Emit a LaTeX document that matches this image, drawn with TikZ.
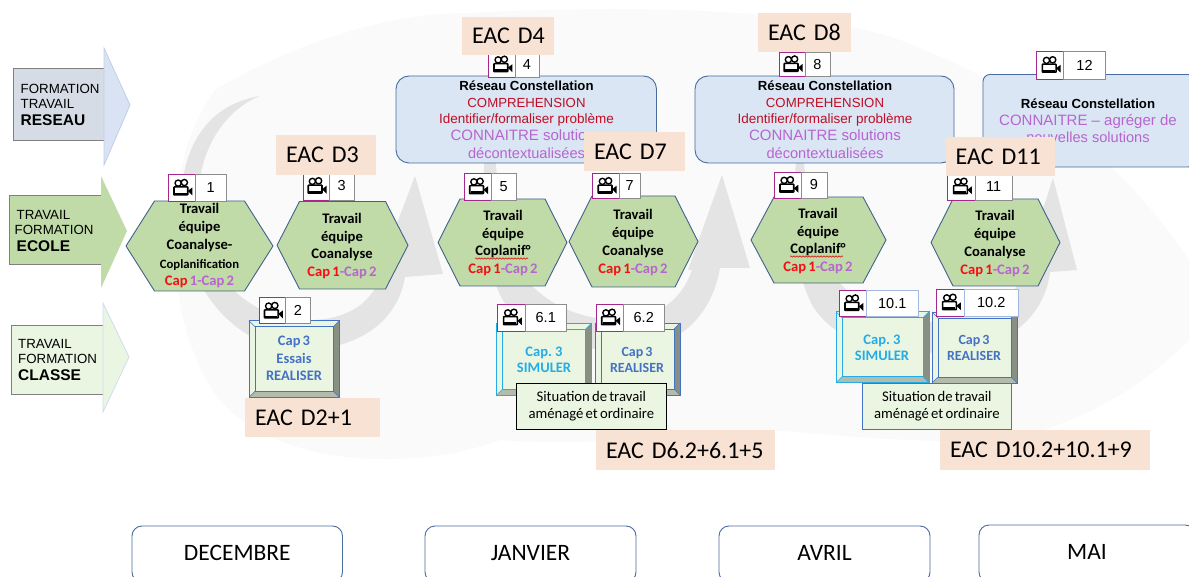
\documentclass[tikz,border=0pt]{standalone}
\usepackage{fontspec}
\setmainfont{Liberation Sans}
\newfontfamily\carl[WordSpace=0.65]{Carlito}
\usetikzlibrary{decorations.pathmorphing}
\definecolor{pinkb}{HTML}{A5288F}
\definecolor{hexfill}{HTML}{C0DBA8}
\definecolor{hexline}{HTML}{41618C}
\definecolor{redc}{HTML}{F50F14}
\definecolor{purc}{HTML}{B765CF}
\definecolor{darkred}{HTML}{C00D25}
\definecolor{bluefill}{HTML}{DAE6F4}
\definecolor{bluel}{HTML}{4A6C9E}
\definecolor{eacf}{HTML}{F8E2D3}
\definecolor{paleg}{HTML}{EAF6E2}
\definecolor{capb}{HTML}{4472C4}
\definecolor{capc}{HTML}{24ACE6}
\definecolor{swirl}{HTML}{E4E4E4}
\definecolor{wash}{HTML}{FAFAFA}
\newcommand{\fs}[1]{\fontsize{#1}{#1}\selectfont}
\newcommand{\Cr}[1]{\textcolor{redc}{#1}}
\newcommand{\Cp}[1]{\textcolor{purc}{#1}}
\tikzset{
  x=1pt,y=-1pt,
  hexstyle/.style={draw=hexline,fill=hexfill,line width=0.9pt,line join=round},
  hextxt/.style={font=\carl\bfseries\fontsize{14.6}{17.9}\selectfont,align=center,inner sep=0pt},
  boxed/.style={inner sep=0pt,outer sep=0pt,align=center},
  pinkbox/.style={draw=pinkb,fill=white,line width=0.9pt},
  numbox/.style={draw=black!45,fill=white,line width=0.9pt,font=\fontsize{14.5}{16}\selectfont},
  numboxb/.style={draw=capb!50,fill=white,line width=0.7pt,font=\fontsize{14.5}{16}\selectfont},
  eac/.style={fill=eacf,font=\carl\fontsize{24}{26}\selectfont},
  reseau/.style={draw=bluel,fill=bluefill,line width=0.9pt,rounded corners=13pt},
  mois/.style={draw=bluel,fill=white,line width=0.9pt,rounded corners=10pt,font=\carl\fontsize{23.5}{26}\selectfont},
  rtxt/.style={align=center,inner sep=0pt,text depth=0pt},
  sit/.style={fill=paleg,line width=0.9pt,font=\carl\fontsize{14.7}{17.3}\selectfont},
  lab/.style={align=left,inner sep=0pt,anchor=west,font=\fontsize{13.3}{15.7}\selectfont},
  bevtxt/.style={font=\carl\bfseries\fontsize{14.5}{17.5}\selectfont,align=center,inner sep=0pt},
  wavy/.style={draw=red!85!black,line width=0.5pt,decorate,decoration={snake,amplitude=0.7pt,segment length=3pt}},
  cam/.pic={
    \draw[black,line width=1.4pt,fill=white] (-3.6,-4.6) circle (3.1);
    \draw[black,line width=1.4pt,fill=white] (2.6,-5.2) circle (3.1);
    \draw[black,line width=1.6pt,fill=white,rounded corners=0.6pt] (-7.8,-0.8) rectangle (6,7.2);
    \fill[black] (6,3.2) -- (10.5,-0.2) -- (10.5,7.6) -- cycle;
    \fill[black] (-7,5) rectangle (5,7.2);
  }
}
% generic node given by its corners
\newcommand{\bx}[7][]{%
  \pgfmathsetmacro{\bw}{(#5)-(#3)}\pgfmathsetmacro{\bh}{(#6)-(#4)}%
  \pgfmathsetmacro{\bcx}{((#3)+(#5))/2}\pgfmathsetmacro{\bcy}{((#4)+(#6))/2}%
  \node[boxed,minimum width=\bw pt,minimum height=\bh pt,#1] (#2) at (\bcx,\bcy) {#7};}
\newcommand{\hexa}[8]{% name xl xr inset top bot centre text
  \pgfmathsetmacro{\hm}{(#5+#6)/2}%
  \draw[hexstyle] (#2,\hm) -- ({#2+#4},#5) -- ({#3-#4},#5) -- (#3,\hm) -- ({#3-#4},#6) -- ({#2+#4},#6) -- cycle;%
  \node[hextxt] (#1) at (#7) {#8};}
\newcommand{\camnum}[8][numbox]{% style name xl xm xr yt yb num
  \bx[pinkbox]{c#2}{#3}{#6}{#4}{#7}{}%
  \bx[#1]{n#2}{#4}{#6}{#5}{#7}{#8}%
  \path (c#2.center) pic {cam};}
\newcommand{\eacn}[6]{%
  \pgfmathsetmacro{\ew}{#4-#2-20}\pgfmathsetmacro{\eh}{#5-#3}%
  \pgfmathsetmacro{\ecx}{(#2+#4)/2}\pgfmathsetmacro{\ecy}{(#3+#5)/2}%
  \node[eac,inner xsep=10pt,inner ysep=0pt,text width=\ew pt,minimum height=\eh pt,align=left] (#1) at (\ecx,\ecy) {\mbox{#6}};}
\newcommand{\bevel}[7]{% name x1 y1 x2 y2 colour text
  \fill[paleg] (#2,#3) rectangle (#4,#5);
  \fill[black!42!paleg] (#4,#3) -- ({#4-6},{#3+6}) -- ({#4-6},{#5-6}) -- (#4,#5) -- cycle;
  \fill[black!24!paleg] (#2,#5) -- ({#2+6},{#5-6}) -- ({#4-6},{#5-6}) -- (#4,#5) -- cycle;
  \draw[#6,line width=0.9pt] (#2,#3) rectangle (#4,#5);
  \draw[#6,line width=0.5pt] (#2,#3) -- ({#2+6},{#3+6}) (#4,#3) -- ({#4-6},{#3+6}) (#2,#5) -- ({#2+6},{#5-6}) (#4,#5) -- ({#4-6},{#5-6});
  \bx[draw=#6,line width=0.9pt,fill=paleg]{#1}{#2+6}{#3+6}{#4-6}{#5-6}{#7}}
\begin{document}
\begin{tikzpicture}
\clip (0,0) rectangle (1189,577);
\fill[white] (0,0) rectangle (1189,577);
% pale wash of the watermark
\fill[wash] (215,90) .. controls (300,40) and (380,20) .. (430,15) .. controls (600,5) and (800,5) .. (900,40)
  .. controls (1000,80) and (1100,130) .. (1189,260) -- (1189,340) .. controls (1130,400) and (1060,430) .. (1000,440)
  .. controls (900,445) and (800,430) .. (760,430) .. controls (680,440) and (560,445) .. (500,440)
  .. controls (420,470) and (280,470) .. (220,400) .. controls (170,340) and (150,180) .. (215,90) -- cycle;
% swirl 1
\fill[swirl] (260,96) .. controls (205,105) and (181,150) .. (181,205) .. controls (181,290) and (240,350) .. (300,350)
  .. controls (360,350) and (398,320) .. (405,277) -- (443,274) -- (415,176) -- (375,281) -- (378,281)
  .. controls (368,310) and (335,322) .. (300,320) .. controls (245,316) and (200,270) .. (198,205)
  .. controls (197,150) and (225,110) .. (260,96) -- cycle;
% swirl 2
\fill[swirl] (490,100) .. controls (480,180) and (480,250) .. (500,295) .. controls (525,345) and (590,352) .. (635,350)
  .. controls (680,345) and (712,315) .. (720,268) -- (750,268) -- (722,175) -- (688,270) -- (692,270)
  .. controls (680,305) and (650,320) .. (620,320) .. controls (565,320) and (520,290) .. (505,240)
  .. controls (498,200) and (495,150) .. (490,100) -- cycle;
% swirl 3
\fill[swirl] (800,130) .. controls (790,200) and (790,260) .. (812,305) .. controls (840,350) and (900,355) .. (960,352)
  .. controls (1010,345) and (1045,315) .. (1050,272) -- (1077,270) -- (1053,178) -- (1022,274) -- (1024,274)
  .. controls (1010,305) and (975,322) .. (935,322) .. controls (880,322) and (830,290) .. (818,245)
  .. controls (808,210) and (805,170) .. (800,130) -- cycle;
% block arrows
\path[draw=black!50,fill=hexline!22!white,line width=0.8pt] (13.5,68.5) rectangle (104,140);
\path[draw=capb!35,fill=capb!20!white,line width=0.8pt] (104,68.5) -- (104,48) -- (130,105) -- (104,165) -- (104,140) -- cycle;
\node[lab] (l1) at (20.5,105) {FORMATION\\[-0.8pt]TRAVAIL\\[1pt]\fontsize{15.5}{16}\selectfont\bfseries RESEAU};
\path[draw=black!50,fill=hexfill,line width=0.8pt] (9.5,195.5) rectangle (101,264.5);
\path[draw=none,fill=hexfill] (101,195.5) -- (101,176) -- (127,231) -- (101,288) -- (101,264.5) -- cycle;
\node[lab] (l2) at (16.5,231) {TRAVAIL\\[-0.8pt]\hspace{-2pt}FORMATION\\[1pt]\fontsize{15.5}{16}\selectfont\bfseries ECOLE};
\path[draw=black!50,fill=paleg,line width=0.8pt] (11.5,325) rectangle (103,394);
\path[draw=capb!25,fill=paleg,line width=0.8pt] (103,325) -- (103,303) -- (129,357) -- (103,412) -- (103,394) -- cycle;
\node[lab] (l3) at (18,360) {TRAVAIL\\[-0.8pt]FORMATION\\[1pt]\fontsize{15.5}{16}\selectfont\bfseries CLASSE};
% network boxes
\bx[reseau]{r1}{396}{76}{656.5}{163}{}
\node[rtxt] (t1) at (526.5,119.5) {\fs{13.2}\bfseries Réseau Constellation\\[5.6pt]\textcolor{darkred}{\fs{13.2}\mdseries COMPREHENSION}\\[3.4pt]\textcolor{darkred}{\fs{13.5}\mdseries Identifier/formaliser problème}\\[3.2pt]\textcolor{purc}{\fs{15}\mdseries CONNAITRE solutions}\\[5.6pt]\textcolor{purc}{\fs{14.6}\mdseries décontextualisées}};
\bx[reseau]{r2}{695}{76}{954}{163}{}
\node[rtxt] (t2) at (825,119.5) {\fs{13.2}\bfseries Réseau Constellation\\[5.6pt]\textcolor{darkred}{\fs{13.2}\mdseries COMPREHENSION}\\[3.4pt]\textcolor{darkred}{\fs{13.5}\mdseries Identifier/formaliser problème}\\[3.2pt]\textcolor{purc}{\fs{15}\mdseries CONNAITRE solutions}\\[5.6pt]\textcolor{purc}{\fs{14.6}\mdseries décontextualisées}};
\bx[reseau,rounded corners=7pt]{r3}{983}{74.5}{1195}{167}{}
\node[rtxt] (t3) at (1088,120.5) {\fs{13.2}\bfseries Réseau Constellation\\[5.5pt]\textcolor{purc}{\fs{15}\mdseries CONNAITRE – agréger de}\\[2.2pt]\textcolor{purc}{\fs{14.6}\mdseries nouvelles solutions}};
% hexagons
\hexa{h1}{126}{273}{28.5}{201}{291}{199.5,246}{Travail\\équipe\\Coanalyse-\\[1pt]{\fontsize{12.7}{14}\selectfont Coplanification}\\[-0.6pt]\Cr{Cap} \Cp{1-Cap 2}}
\hexa{h3}{277}{408}{22.5}{201.5}{289}{342,246}{Travail\\équipe\\Coanalyse\\\Cr{Cap 1}\Cp{-Cap 2}}
\hexa{h5}{438}{567}{22}{199}{286}{503,243}{Travail\\équipe\\Coplanif°\\\Cr{Cap 1}\Cp{-Cap 2}}
\hexa{h7}{569}{698}{23}{196}{287}{633,242.5}{Travail\\équipe\\Coanalyse\\\Cr{Cap 1}\Cp{-Cap 2}}
\hexa{h9}{751}{886}{23}{197}{283}{818,241}{Travail\\équipe\\Coplanif°\\\Cr{Cap 1}\Cp{-Cap 2}}
\hexa{h11}{931}{1060}{22}{199}{286}{995,243.5}{Travail\\équipe\\Coanalyse\\\Cr{Cap 1}\Cp{-Cap 2}}
\coordinate (w1a) at (475,258.5); \coordinate (w1b) at (528,258.5);
\coordinate (w2a) at (790,256.5); \coordinate (w2b) at (843,256.5);
\draw[wavy] (w1a) -- (w1b);
\draw[wavy] (w2a) -- (w2b);
% bevel boxes
\bevel{b2}{249}{320.7}{339.3}{397.3}{capb}{}
\node[bevtxt,text=capb] (bt2) at (294,358.5) {Cap 3\\Essais\\REALISER};
\bevel{b61}{496.7}{323}{591.7}{395}{capc}{}
\node[bevtxt,text=capc,font=\carl\bfseries\fontsize{14.5}{16}\selectfont] (bt61) at (544,360) {Cap. 3\\SIMULER};
\bevel{b62}{595}{323}{680}{395}{capb}{}
\node[bevtxt,text=capb,font=\carl\bfseries\fontsize{14}{16}\selectfont] (bt62) at (637,360) {Cap 3\\REALISER};
\bevel{b101}{836}{311.7}{929}{382.7}{capc}{}
\node[bevtxt,text=capc,font=\carl\bfseries\fontsize{14.5}{16}\selectfont] (bt101) at (882,348) {Cap. 3\\SIMULER};
\bevel{b102}{932}{312}{1017}{383}{capb}{}
\node[bevtxt,text=capb,font=\carl\bfseries\fontsize{14}{16}\selectfont] (bt102) at (974,348) {Cap 3\\REALISER};
% situation boxes
\bx[sit,draw=black]{s1}{516.7}{383.7}{666}{429}{Situation de travail\\aménagé et ordinaire}
\bx[sit,draw=capb]{s2}{862}{383.7}{1011.7}{429}{Situation de travail\\aménagé et ordinaire}
% camera + number
\camnum{1}{168}{195.5}{226}{174.5}{201}{1}
\camnum{3}{303}{329}{354.5}{172}{200}{3}
\camnum{2}{259}{285.5}{310.5}{297.7}{323.7}{2}
\camnum{4}{488.5}{515}{539}{52}{77}{4}
\camnum{5}{464}{491}{516.5}{173}{200}{5}
\camnum{7}{592.5}{619.5}{640}{173.5}{198.5}{7}
\camnum{8}{779}{805}{830}{52}{76.5}{8}
\camnum{9}{774.5}{801}{827}{172}{198}{9}
\camnum{11}{947.7}{975}{1012.5}{173}{200}{11}
\camnum{12}{1036.7}{1063.5}{1105.5}{51}{79}{12}
\camnum{61}{497.7}{525}{566.5}{304}{331}{6.1}
\camnum{62}{596}{623}{664.5}{304}{331}{6.2}
\camnum[numboxb]{101}{839}{866.5}{918}{290}{316.5}{10.1}
\camnum[numboxb]{102}{936.7}{964}{1018.5}{289}{316}{10.2}
% EAC labels
\eacn{e3}{276}{135.5}{375.5}{175}{EAC D3}
\eacn{e4}{462}{17}{554}{55}{EAC D4}
\eacn{e7}{584}{132}{684.5}{171}{EAC D7}
\eacn{e8}{758}{13}{850.7}{52.5}{EAC D8}
\eacn{e11}{945.7}{137}{1055}{176}{EAC D11}
\eacn{e2}{245}{398}{380}{437}{EAC D2+1}
\eacn{e6}{596}{430}{775}{470}{EAC D6.2+6.1+5}
\eacn{e10}{940}{430}{1150}{470}{EAC D10.2+10.1+9}
% months
\bx[mois]{m1}{132}{526}{342.5}{582}{\raisebox{3pt}{DECEMBRE}}
\bx[mois]{m2}{425}{526}{636}{582}{\raisebox{3pt}{JANVIER}}
\bx[mois]{m3}{719}{526}{930}{582}{\raisebox{3pt}{AVRIL}}
\bx[mois]{m4}{979}{525}{1195}{582}{\raisebox{3pt}{MAI}}
\end{tikzpicture}
\end{document}
